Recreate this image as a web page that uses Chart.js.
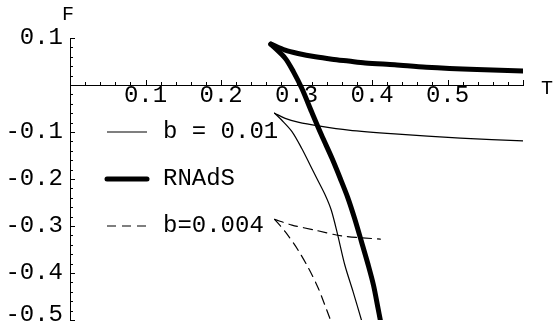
<!DOCTYPE html>
<html lang="en">
<head>
<meta charset="UTF-8">
<title>F versus T</title>
<script src="https://cdn.jsdelivr.net/npm/chart.js"></script>
<style>
  html, body { margin: 0; padding: 0; background: #fff; }
  #wrap { width: 553px; height: 329px; }
</style>
</head>
<body>
<div id="wrap"><canvas id="chart"></canvas></div>
<script>
// each curve is two branches that leave the same cusp point
// RNAdS (thick)
const rnadsUpperT = [0.266, 0.285, 0.302, 0.325, 0.347, 0.369, 0.391, 0.430, 0.472, 0.539, 0.600];
const rnadsUpperF = [0.087, 0.074, 0.067, 0.060, 0.055, 0.051, 0.047, 0.043, 0.038, 0.033, 0.030];
const rnadsLowerT = [0.266, 0.285, 0.296, 0.307, 0.320, 0.333, 0.347, 0.358, 0.368, 0.377, 0.386, 0.395, 0.402, 0.408, 0.411];
const rnadsLowerF = [0.087, 0.057, 0.028, -0.007, -0.057, -0.106, -0.156, -0.199, -0.240, -0.284, -0.333, -0.383, -0.426, -0.475, -0.500];
// b = 0.01 (thin)
const b01UpperT = [0.271, 0.285, 0.302, 0.329, 0.369, 0.430, 0.517, 0.600];
const b01UpperF = [-0.060, -0.071, -0.079, -0.087, -0.096, -0.104, -0.113, -0.119];
const b01LowerT = [0.271, 0.280, 0.294, 0.307, 0.318, 0.327, 0.338, 0.346, 0.354, 0.364, 0.375, 0.386];
const b01LowerF = [-0.060, -0.074, -0.099, -0.135, -0.170, -0.199, -0.234, -0.266, -0.315, -0.383, -0.440, -0.500];
// b = 0.004 (dashed)
const b004UpperT = [0.271, 0.294, 0.325, 0.360, 0.411];
const b004UpperF = [-0.286, -0.298, -0.309, -0.321, -0.328];
const b004LowerT = [0.271, 0.285, 0.302, 0.316, 0.329, 0.345];
const b004LowerF = [-0.286, -0.312, -0.351, -0.390, -0.433, -0.500];

const legendLabels = ['b = 0.01', 'RNAdS', 'b=0.004'];
const legendLevels = [-0.1, -0.2, -0.3];

const xMin = 0, xMax = 0.6, yMin = -0.5, yMax = 0.1;
const minorStep = 0.02;

const monoFont = 'Liberation Mono, Courier New, monospace';

function pts(ts, fs) {
    return ts.map((t, i) => ({ x: t, y: fs[i] }));
}

function isMajor(v) {
    return Math.abs(v * 10 - Math.round(v * 10)) < 1e-6;
}

function tickLabel(v) {
    if (!isMajor(v) || Math.abs(v) < 1e-9) return '';
    return v.toFixed(1);
}

const thick = { borderWidth: 5, borderDash: [] };
const thin = { borderWidth: 1.2, borderDash: [] };
const dashed = { borderWidth: 1.2, borderDash: [9, 6] };
const legendStyles = [thin, thick, dashed];

function line(data, style) {
    return {
        data: data,
        showLine: true,
        borderColor: '#000',
        borderWidth: style.borderWidth,
        borderDash: style.borderDash,
        borderCapStyle: 'round',
        pointRadius: 0,
        tension: 0.3,
        fill: false
    };
}

// ticks inward, axis names, the bottom label lifted to stay on canvas, and the inset legend
const decorations = {
    id: 'decorations',
    afterDraw(chart) {
        const { ctx, chartArea, scales: { x, y } } = chart;
        const y0 = y.getPixelForValue(0);
        const x0 = x.getPixelForValue(0);
        ctx.save();
        ctx.strokeStyle = '#000';
        ctx.lineWidth = 1;
        ctx.setLineDash([]);
        ctx.beginPath();
        x.ticks.forEach(t => {
            if (Math.abs(t.value) < 1e-9) return;
            const px = Math.round(x.getPixelForValue(t.value)) + 0.5;
            const len = isMajor(t.value) ? 5 : 3;
            ctx.moveTo(px, y0);
            ctx.lineTo(px, y0 - len);
        });
        y.ticks.forEach(t => {
            const py = Math.round(y.getPixelForValue(t.value)) + 0.5;
            const len = isMajor(t.value) ? 5 : 3;
            ctx.moveTo(x0, py);
            ctx.lineTo(x0 + len, py);
        });
        ctx.stroke();

        ctx.fillStyle = '#000';
        ctx.font = '24px ' + monoFont;
        ctx.textAlign = 'right';
        ctx.textBaseline = 'middle';
        ctx.fillText(yMin.toFixed(1), x0 - 7, y.getPixelForValue(yMin) - 5);

        ctx.font = '20px ' + monoFont;
        ctx.textAlign = 'center';
        ctx.fillText('F', x0 - 2, chartArea.top - 23);
        ctx.fillText('T', chartArea.right + 24, y0 + 4);

        // legend
        ctx.font = '24px ' + monoFont;
        ctx.textAlign = 'left';
        const lx0 = chartArea.left + 37, lx1 = chartArea.left + 77, tx = chartArea.left + 93;
        legendLabels.forEach((label, i) => {
            const ly = y.getPixelForValue(legendLevels[i]);
            ctx.lineWidth = legendStyles[i].borderWidth;
            ctx.setLineDash(legendStyles[i].borderDash);
            ctx.lineCap = legendStyles[i] === thick ? 'round' : 'butt';
            ctx.beginPath();
            ctx.moveTo(lx0, ly);
            ctx.lineTo(lx1, ly);
            ctx.stroke();
            ctx.fillText(label, tx, ly);
        });
        ctx.restore();
    }
};

const ctx = document.getElementById('chart').getContext('2d');
new Chart(ctx, {
    type: 'scatter',
    data: {
        datasets: [
            line(pts(rnadsUpperT, rnadsUpperF), thick),
            line(pts(rnadsLowerT, rnadsLowerF), thick),
            line(pts(b01UpperT, b01UpperF), thin),
            line(pts(b01LowerT, b01LowerF), thin),
            line(pts(b004UpperT, b004UpperF), dashed),
            line(pts(b004LowerT, b004LowerF), dashed)
        ]
    },
    options: {
        responsive: true,
        maintainAspectRatio: false,
        animation: false,
        layout: { padding: { top: 38, right: 30, bottom: 9, left: 0 } },
        plugins: {
            legend: { display: false },
            tooltip: { enabled: false }
        },
        scales: {
            x: {
                type: 'linear',
                min: xMin,
                max: xMax,
                position: { y: 0 },
                afterFit: scale => { scale.height = 0; scale.paddingLeft = 0; scale.paddingRight = 0; },
                grid: { display: false, drawTicks: false },
                border: { display: true, color: '#000', width: 1 },
                ticks: {
                    stepSize: minorStep,
                    autoSkip: false,
                    maxRotation: 0,
                    padding: -4,
                    color: '#000',
                    font: { family: monoFont, size: 24 },
                    callback: v => (Math.abs(v - xMax) < 1e-9 ? '' : tickLabel(v))
                }
            },
            y: {
                type: 'linear',
                min: yMin,
                max: yMax,
                position: 'left',
                afterFit: scale => { scale.width = 70; scale.paddingTop = 0; scale.paddingBottom = 0; },
                grid: { display: false, drawTicks: false },
                border: { display: true, color: '#000', width: 1 },
                ticks: {
                    stepSize: minorStep,
                    autoSkip: false,
                    padding: 7,
                    color: '#000',
                    font: { family: monoFont, size: 24 },
                    callback: v => (Math.abs(v - yMin) < 1e-9 ? '' : tickLabel(v))
                }
            }
        }
    },
    plugins: [decorations]
});
</script>
</body>
</html>
